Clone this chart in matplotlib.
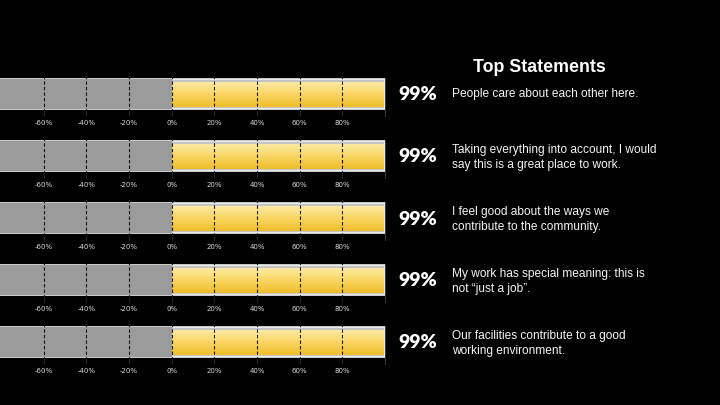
import numpy as np
import matplotlib
matplotlib.use('Agg')
import matplotlib.pyplot as plt
import matplotlib.patches as mpatches
from matplotlib.colors import LinearSegmentedColormap

# data
statements = ['People care about each other here.',
              'Taking everything into account, I would\nsay this is a great place to work.',
              'I feel good about the ways we\ncontribute to the community.',
              'My work has special meaning: this is\nnot \u201cjust a job\u201d.',
              'Our facilities contribute to a good\nworking environment.']
scores = [99, 99, 99, 99, 99]
ticks = [-60, -40, -20, 0, 20, 40, 60, 80]
tick_labels = ['-60%', '-40%', '-20%', '0%', '20%', '40%', '60%', '80%']
xmin, xmax = -80.5, 100

W, H = 720, 405
fig = plt.figure(figsize=(W/100, H/100), dpi=100)
fig.patch.set_facecolor('black')

yellow = LinearSegmentedColormap.from_list('yel', ['#fdeaa3', '#f9d561', '#f0bd2a'])
grad = np.linspace(0, 1, 64).reshape(-1, 1)

row_top = [78, 140, 202, 264, 326]
bar_h = 32
for i, (stmt, val) in enumerate(zip(statements, scores)):
    top = row_top[i]
    ax = fig.add_axes([0, 1 - (top + bar_h)/H, 385/W, bar_h/H])
    ax.set_xlim(xmin, xmax)
    ax.set_ylim(0, 1)
    ax.set_facecolor('black')
    # frame
    ax.add_patch(mpatches.Rectangle((xmin, 0.02), xmax - xmin, 0.96, fc='#c4c4c4',
                                    ec='#f2f2f2', lw=1.2, zorder=1))
    # negative side
    ax.add_patch(mpatches.Rectangle((xmin, 0.03), -xmin, 0.94, fc='#9b9b9b', ec='none', zorder=2))
    # score bar with gradient
    ax.imshow(grad, cmap=yellow, aspect='auto', extent=(0, val, 0.1, 0.88),
              origin='upper', zorder=3)
    for t in ticks:
        ax.axvline(t, ymin=-0.05, ymax=1.05, color='#111111', ls=(0, (3, 2)), lw=0.8,
                   zorder=4, clip_on=False)
    ax.axvline(100, ymin=-0.2, ymax=1.0, color='#444444', lw=0.6, zorder=0, clip_on=False)
    ax.set_xticks(ticks)
    ax.set_xticklabels(tick_labels)
    ax.tick_params(axis='x', colors='#333333', labelcolor='#d8d8d8', labelsize=5,
                   length=4, width=0.6, pad=3)
    ax.set_yticks([])
    for s in ax.spines.values():
        s.set_visible(False)

    cy = 1 - (top + bar_h/2)/H
    fig.text(398/W, cy - 1/H, '%d%%' % val, color='white', fontsize=14, fontweight='heavy',
             ha='left', va='center', family='Lato')
    fig.text(452/W, cy + 1/H, stmt, color='#f4f4f4', fontsize=8.6, ha='left',
             va='center_baseline', family='Liberation Sans', linespacing=1.25)

fig.text(539/W, 1 - 65/H, 'Top Statements', color='white', fontsize=12.8,
         fontweight='bold', ha='center', va='center_baseline', family='Liberation Sans')

fig.savefig('out.png', dpi=100, facecolor='black')
